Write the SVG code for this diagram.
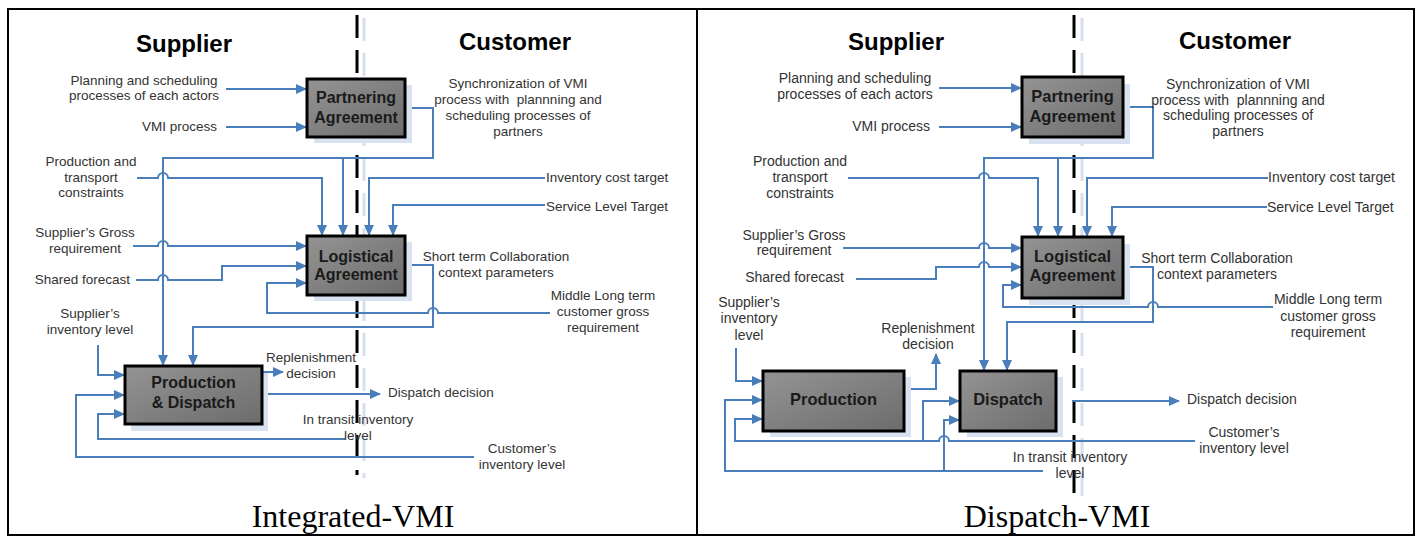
<svg xmlns="http://www.w3.org/2000/svg" width="1419" height="536" viewBox="0 0 1419 536">
<style>
.frame{fill:none;stroke:#000;stroke-width:2}
.head{font-family:"Liberation Sans",Arial,sans-serif;font-weight:bold;font-size:24px;fill:#000;text-anchor:middle}
.lbl{font-family:"Liberation Sans",Arial,sans-serif;font-size:13.5px;fill:#333}
.lblR{font-family:"Liberation Sans",Arial,sans-serif;font-size:14px;fill:#333}
.c{text-anchor:middle}
.e{text-anchor:end}
.box{fill:url(#g);stroke:#000;stroke-width:3}
.shadow{fill:#d9e2f1}
.bt{font-family:"Liberation Sans",Arial,sans-serif;font-weight:bold;font-size:16px;fill:#1a1a1a;text-anchor:middle}
.btR{font-family:"Liberation Sans",Arial,sans-serif;font-weight:bold;font-size:16.5px;fill:#1a1a1a;text-anchor:middle}
.cap{font-family:"Liberation Serif","Times New Roman",serif;font-size:32px;fill:#000;text-anchor:middle}
.dash{stroke:#000;stroke-width:3;stroke-dasharray:23 12}
.dashs{stroke:#d6e0f0;stroke-width:3;stroke-dasharray:23 12}
.ln{fill:none;stroke:#4a7ebb;stroke-width:2}
.ar{marker-end:url(#arr)}
</style>
<defs>
<linearGradient id="g" x1="0" y1="0" x2="1" y2="1">
<stop offset="0" stop-color="#949494"/>
<stop offset="1" stop-color="#6c6c6c"/>
</linearGradient>
<marker id="arr" markerUnits="userSpaceOnUse" markerWidth="11" markerHeight="10" refX="10" refY="5" orient="auto">
<path d="M0,0 L11,5 L0,10 z" fill="#4a7ebb"/>
</marker>
</defs>

<rect class="frame" x="8" y="9" width="1406" height="526"/>
<line class="frame" x1="697" y1="9" x2="697" y2="535"/>

<!-- LEFT PANEL -->
<g id="left-headings">
<text class="head" x="184" y="52">Supplier</text>
<text class="head" x="515" y="50">Customer</text>
</g>
<g id="left-divider">
<line class="dashs" x1="364" y1="18" x2="364" y2="478"/>
<line class="dash" x1="357" y1="15" x2="357" y2="475"/>
</g>

<g id="left-connectors">
<path class="ln ar" d="M226 89 H306"/>
<path class="ln ar" d="M226 127 H306"/>
<path class="ln ar" d="M405 108 H433 V158 H163 V365"/>
<path class="ln ar" d="M343 158 V235"/>
<path class="ln ar" d="M137 178 H158 A5 5 0 0 1 168 178 H322 V235"/>
<path class="ln ar" d="M545 178 H369 V235"/>
<path class="ln ar" d="M545 205 H393 V235"/>
<path class="ln ar" d="M133 246 H158 A5 5 0 0 1 168 246 H306"/>
<path class="ln ar" d="M136 280 H158 A5 5 0 0 1 168 280 H222 V266 H306"/>
<path class="ln ar" d="M405 265 H433 V327 H193 V365"/>
<path class="ln ar" d="M550 313 H438 A5 5 0 0 0 428 313 H267 V283 H306"/>
<path class="ln ar" d="M98 345 V375 H124"/>
<path class="ln ar" d="M474 457 H76 V395 H124"/>
<path class="ln ar" d="M345 439 H98 V414 H124"/>
<path class="ln ar" d="M262 372 H283"/>
<path class="ln ar" d="M263 394 H380"/>
</g>

<g id="left-partnering">
<rect class="shadow" x="314" y="85" width="98" height="58"/>
<rect class="box" x="307" y="79" width="98" height="58"/>
<text class="bt" x="356" y="103">Partnering</text>
<text class="bt" x="356" y="123">Agreement</text>
</g>
<g id="left-logistical">
<rect class="shadow" x="314" y="242" width="98" height="59"/>
<rect class="box" x="307" y="236" width="98" height="59"/>
<text class="bt" x="356" y="262">Logistical</text>
<text class="bt" x="356" y="280">Agreement</text>
</g>
<g id="left-production-dispatch">
<rect class="shadow" x="131" y="373" width="137" height="58"/>
<rect class="box" x="125" y="366" width="137" height="58"/>
<text class="bt" x="193.5" y="388">Production</text>
<text class="bt" x="193.5" y="408">&amp; Dispatch</text>
</g>

<g id="left-labels">
<text class="lbl c" x="144" y="85">Planning and scheduling</text>
<text class="lbl c" x="144" y="100">processes of each actors</text>
<text class="lbl e" x="217" y="131">VMI process</text>
<text class="lbl c" x="518" y="88">Synchronization of VMI</text>
<text class="lbl c" x="518" y="104" xml:space="preserve">process with  plannning and</text>
<text class="lbl c" x="518" y="120">scheduling processes of</text>
<text class="lbl c" x="518" y="136">partners</text>
<text class="lbl c" x="91" y="166">Production and</text>
<text class="lbl c" x="91" y="182">transport</text>
<text class="lbl c" x="91" y="197">constraints</text>
<text class="lbl" x="546" y="182">Inventory cost target</text>
<text class="lbl" x="546" y="211">Service Level Target</text>
<text class="lbl c" x="85" y="237">Supplier’s Gross</text>
<text class="lbl c" x="85" y="253">requirement</text>
<text class="lbl e" x="130" y="284">Shared forecast</text>
<text class="lbl c" x="496" y="261">Short term Collaboration</text>
<text class="lbl c" x="496" y="277">context parameters</text>
<text class="lbl c" x="603" y="300">Middle Long term</text>
<text class="lbl c" x="603" y="316">customer gross</text>
<text class="lbl c" x="603" y="332">requirement</text>
<text class="lbl c" x="90" y="318">Supplier’s</text>
<text class="lbl c" x="90" y="334">inventory level</text>
<text class="lbl c" x="311" y="362">Replenishment</text>
<text class="lbl c" x="311" y="378">decision</text>
<text class="lbl" x="388" y="397">Dispatch decision</text>
<text class="lbl c" x="358" y="424">In transit inventory</text>
<text class="lbl c" x="358" y="440">level</text>
<text class="lbl c" x="522" y="453">Customer’s</text>
<text class="lbl c" x="522" y="469">inventory level</text>
<text class="cap" x="353" y="527">Integrated-VMI</text>
</g>

<!-- RIGHT PANEL -->
<g id="right-headings">
<text class="head" x="896" y="50">Supplier</text>
<text class="head" x="1235" y="49">Customer</text>
</g>
<g id="right-divider">
<line class="dashs" x1="1082" y1="18" x2="1082" y2="500"/>
<line class="dash" x1="1074" y1="15" x2="1074" y2="497"/>
</g>

<g id="right-connectors">
<path class="ln ar" d="M939 88 H1021"/>
<path class="ln ar" d="M939 127 H1021"/>
<path class="ln ar" d="M1123 107 H1153 V158 H984 V370"/>
<path class="ln ar" d="M1058 158 V236"/>
<path class="ln ar" d="M848 178 H979 A5 5 0 0 1 989 178 H1038 V236"/>
<path class="ln ar" d="M1268 178 H1087 V236"/>
<path class="ln ar" d="M1267 207 H1112 V236"/>
<path class="ln ar" d="M843 248 H979 A5 5 0 0 1 989 248 H1021"/>
<path class="ln ar" d="M856 279 H936 V267 H979 A5 5 0 0 1 989 267 H1021"/>
<path class="ln ar" d="M1123 267 H1153 V322 H1007 V370"/>
<path class="ln ar" d="M1273 307 H1158 A5 5 0 0 0 1148 307 H1003 V285 H1021"/>
<path class="ln ar" d="M736 348 V381 H762"/>
<path class="ln ar" d="M1195 441 H949 A5 5 0 0 0 939 441 H735 V419 H762"/>
<path class="ln ar" d="M923 441 V401 H959"/>
<path class="ln ar" d="M1043 471 H725 V400 H762"/>
<path class="ln ar" d="M944 471 V420 H959"/>
<path class="ln ar" d="M904 389 H936 V354"/>
<path class="ln ar" d="M1072 401 H1179"/>
</g>

<g id="right-partnering">
<rect class="shadow" x="1029" y="84" width="101" height="60"/>
<rect class="box" x="1022" y="77" width="101" height="60"/>
<text class="btR" x="1072.5" y="102">Partnering</text>
<text class="btR" x="1072.5" y="122">Agreement</text>
</g>
<g id="right-logistical">
<rect class="shadow" x="1029" y="244" width="101" height="61"/>
<rect class="box" x="1022" y="237" width="101" height="61"/>
<text class="btR" x="1072.5" y="262">Logistical</text>
<text class="btR" x="1072.5" y="281">Agreement</text>
</g>
<g id="right-production">
<rect class="shadow" x="770" y="377" width="141" height="60"/>
<rect class="box" x="763" y="371" width="141" height="60"/>
<text class="btR" x="833.5" y="405">Production</text>
</g>
<g id="right-dispatch">
<rect class="shadow" x="967" y="377" width="96" height="60"/>
<rect class="box" x="960" y="371" width="96" height="60"/>
<text class="btR" x="1008" y="405">Dispatch</text>
</g>

<g id="right-labels">
<text class="lblR c" x="855" y="83">Planning and scheduling</text>
<text class="lblR c" x="855" y="99">processes of each actors</text>
<text class="lblR e" x="930" y="131">VMI process</text>
<text class="lblR c" x="1238" y="89">Synchronization of VMI</text>
<text class="lblR c" x="1238" y="105" xml:space="preserve">process with  plannning and</text>
<text class="lblR c" x="1238" y="120">scheduling processes of</text>
<text class="lblR c" x="1238" y="136">partners</text>
<text class="lblR c" x="800" y="166">Production and</text>
<text class="lblR c" x="800" y="182">transport</text>
<text class="lblR c" x="800" y="198">constraints</text>
<text class="lblR" x="1268" y="182">Inventory cost target</text>
<text class="lblR" x="1267" y="212">Service Level Target</text>
<text class="lblR c" x="794" y="240">Supplier’s Gross</text>
<text class="lblR c" x="794" y="255">requirement</text>
<text class="lblR e" x="844" y="282">Shared forecast</text>
<text class="lblR c" x="1217" y="263">Short term Collaboration</text>
<text class="lblR c" x="1217" y="279">context parameters</text>
<text class="lblR c" x="1328" y="304">Middle Long term</text>
<text class="lblR c" x="1328" y="321">customer gross</text>
<text class="lblR c" x="1328" y="337">requirement</text>
<text class="lblR c" x="749" y="307">Supplier’s</text>
<text class="lblR c" x="749" y="323">inventory</text>
<text class="lblR c" x="749" y="340">level</text>
<text class="lblR c" x="928" y="333">Replenishment</text>
<text class="lblR c" x="928" y="349">decision</text>
<text class="lblR" x="1187" y="404">Dispatch decision</text>
<text class="lblR c" x="1070" y="462">In transit inventory</text>
<text class="lblR c" x="1070" y="478">level</text>
<text class="lblR c" x="1244" y="437">Customer’s</text>
<text class="lblR c" x="1244" y="453">inventory level</text>
<text class="cap" x="1057" y="527">Dispatch-VMI</text>
</g>
</svg>
